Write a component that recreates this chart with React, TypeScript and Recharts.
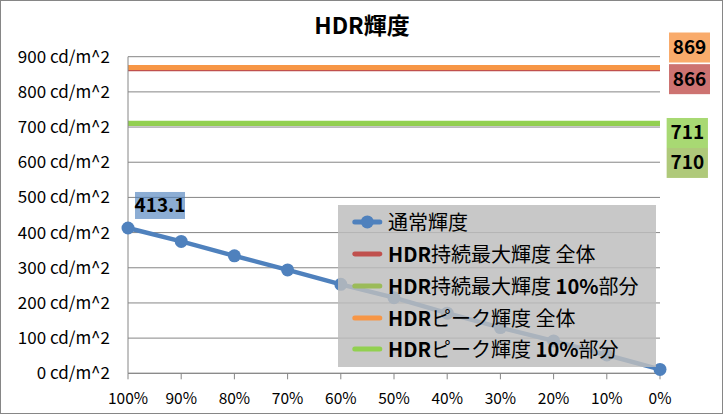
import React from 'react';
import { LineChart, Line, XAxis, YAxis, CartesianGrid, Legend, LabelList } from 'recharts';

const chartTitle = 'HDR輝度';
const categories = ['100%', '90%', '80%', '70%', '60%', '50%', '40%', '30%', '20%', '10%', '0%'];
const normalLuminance = [413.1, 375, 334, 294, 253, 215, 171, 130, 92, 52, 11];
const hdrSustainedFull = [866, 866, 866, 866, 866, 866, 866, 866, 866, 866, 866];
const hdrSustained10 = [710, 710, 710, 710, 710, 710, 710, 710, 710, 710, 710];
const hdrPeakFull = [869, 869, 869, 869, 869, 869, 869, 869, 869, 869, 869];
const hdrPeak10 = [711, 711, 711, 711, 711, 711, 711, 711, 711, 711, 711];
const seriesNames = ['通常輝度', 'HDR持続最大輝度 全体', 'HDR持続最大輝度 10%部分', 'HDRピーク輝度 全体', 'HDRピーク輝度 10%部分'];
const yTicks = [0, 100, 200, 300, 400, 500, 600, 700, 800, 900];
const yUnit = 'cd/m^2';

const seriesValues = [normalLuminance, hdrSustainedFull, hdrSustained10, hdrPeakFull, hdrPeak10];

const data = categories.map((cat, i) => {
  const row: Record<string, any> = { cat };
  seriesValues.forEach((vals, s) => {
    row['s' + s] = vals[i];
  });
  return row;
});

const FONT = '"Noto Sans CJK JP", "Noto Sans", sans-serif';
const GRID = '#868686';

type SeriesStyle = {
  color: string;
  width: number;
  dot: boolean;
  labelAt: 'first' | 'last';
  labelFill: string;
  dx: number;
  dy: number;
  boxW: number;
  boxH: number;
};

const styles: SeriesStyle[] = [
  { color: '#4F81BD', width: 4.5, dot: true, labelAt: 'first', labelFill: 'rgba(79,129,189,0.65)', dx: 32, dy: -22.5, boxW: 50, boxH: 27 },
  { color: '#C0504D', width: 5, dot: false, labelAt: 'last', labelFill: 'rgba(192,80,77,0.8)', dx: 29.5, dy: 10.5, boxW: 41, boxH: 30 },
  { color: '#9BBB59', width: 5, dot: false, labelAt: 'last', labelFill: 'rgba(155,187,89,0.8)', dx: 27.3, dy: 39.4, boxW: 41.3, boxH: 30 },
  { color: '#F79646', width: 5, dot: false, labelAt: 'last', labelFill: 'rgba(247,150,70,0.8)', dx: 29.5, dy: -20.1, boxW: 41, boxH: 30 },
  { color: '#92D050', width: 5, dot: false, labelAt: 'last', labelFill: 'rgba(146,208,80,0.8)', dx: 27.3, dy: 9.8, boxW: 41.3, boxH: 30 },
];

const makeLabel = (st: SeriesStyle, n: number) => (props: any) => {
  const target = st.labelAt === 'first' ? 0 : n - 1;
  if (props.index !== target) return null;
  const vb = props.viewBox || {};
  const x = typeof props.x === 'number' ? props.x : vb.x;
  const y = typeof props.y === 'number' ? props.y : vb.y;
  const cx = x + st.dx;
  const cy = y + st.dy;
  return (
    <g>
      <rect x={cx - st.boxW / 2} y={cy - st.boxH / 2} width={st.boxW} height={st.boxH} fill={st.labelFill} />
      <text x={cx} y={cy + 6.5} textAnchor="middle" fontFamily={FONT} fontWeight={700} fontSize={19} fill="#000">
        {props.value}
      </text>
    </g>
  );
};

const XTick = (props: any) => {
  const { x, y, payload } = props;
  return (
    <text x={x} y={y + 24.7} textAnchor="middle" fontFamily={FONT} fontSize={15.5} fill="#000">
      {payload.value}
    </text>
  );
};

const YTick = (props: any) => {
  const { x, y, payload } = props;
  return (
    <text x={x} y={y + 6} textAnchor="end" fontFamily={FONT} fontSize={17} fill="#000">
      {`${payload.value} ${yUnit}`}
    </text>
  );
};

const runs = (s: string) => s.match(/[\x00-\x7F]+|[^\x00-\x7F]+/g) || [];

const renderLegend = () => (
  <div
    style={{
      width: '100%',
      height: '100%',
      background: 'rgba(189,189,189,0.83)',
      boxSizing: 'border-box',
      paddingTop: 1.3,
    }}
  >
    {seriesNames.map((name, i) => {
      const st = styles[i];
      return (
        <div key={name} style={{ height: 31.8, display: 'flex', alignItems: 'center' }}>
          <svg width={50} height={31.8} style={{ flex: 'none', display: 'block' }}>
            <line x1={16.8} x2={41.8} y1={15.9} y2={15.9} stroke={st.color} strokeWidth={5} strokeLinecap="round" />
            {st.dot && <circle cx={29.3} cy={15.9} r={6.5} fill={st.color} />}
          </svg>
          <span style={{ fontFamily: FONT, fontSize: 20, lineHeight: 1, color: '#000', whiteSpace: 'pre' }}>
            {runs(name).map((r, k) => (
              <span key={k} style={{ fontWeight: /^[\x00-\x7F]+$/.test(r) ? 700 : 400 }}>
                {r}
              </span>
            ))}
          </span>
        </div>
      );
    })}
  </div>
);

export default function App() {
  return (
    <div style={{ position: 'relative', width: 727, height: 415, background: '#fff', overflow: 'hidden' }}>
      <style>{'body{margin:0}'}</style>
      <div
        style={{
          position: 'absolute',
          left: 0,
          top: 0,
          width: 721,
          height: 412,
          border: '1px solid #868686',
        }}
      />
      <div style={{ position: 'absolute', left: 0, top: 0 }}>
        <LineChart width={727} height={415} data={data} margin={{ top: 56.7, right: 67, bottom: 11.7, left: 0 }}>
          <CartesianGrid vertical={false} stroke={GRID} strokeWidth={1} />
          <XAxis
            dataKey="cat"
            height={30}
            interval={0}
            tickSize={6}
            tickMargin={0}
            axisLine={{ stroke: GRID }}
            tickLine={{ stroke: GRID }}
            tick={<XTick />}
          />
          <YAxis
            width={128}
            domain={[0, 900]}
            ticks={yTicks}
            interval={0}
            tickSize={0}
            tickMargin={18}
            tickLine={false}
            axisLine={{ stroke: GRID }}
            tick={<YTick />}
          />
          {styles.map((st, i) => (
            <Line
              key={'s' + i}
              dataKey={'s' + i}
              name={seriesNames[i]}
              type="linear"
              stroke={st.color}
              strokeWidth={st.width}
              dot={st.dot ? { r: 6.5, fill: st.color, stroke: st.color, strokeWidth: 0 } : false}
              activeDot={false}
              isAnimationActive={false}
            >
              <LabelList dataKey={'s' + i} content={makeLabel(st, categories.length)} />
            </Line>
          ))}
          <Legend
            layout="vertical"
            align="center"
            verticalAlign="middle"
            content={renderLegend}
            wrapperStyle={{ left: 338, top: 205, width: 318, height: 162 }}
          />
        </LineChart>
      </div>
      <svg width={727} height={50} style={{ position: 'absolute', left: 0, top: 0, pointerEvents: 'none' }}>
        <text x={362} y={34.3} textAnchor="middle" fontFamily={FONT} fontWeight={700} fontSize={23} fill="#000">
          {chartTitle}
        </text>
      </svg>
    </div>
  );
}
